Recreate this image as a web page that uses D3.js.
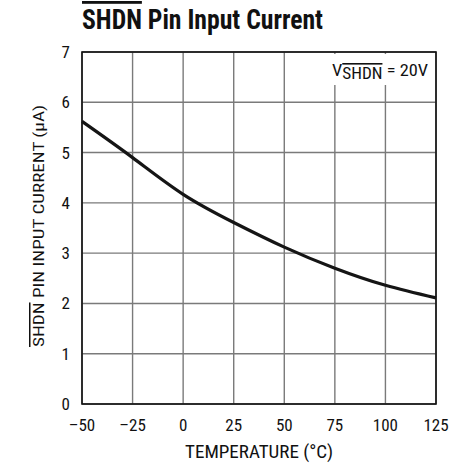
<!DOCTYPE html>
<html><head><meta charset="utf-8">
<script src="https://cdn.jsdelivr.net/npm/d3@7"></script>
<style>
body{margin:0;background:#fff;}
text{font-family:"Liberation Sans Narrow","Arial Narrow","Roboto Condensed","Liberation Sans",sans-serif;}
</style></head>
<body><svg id="c" width="451" height="468"></svg>
<script>
const temps = [-50, -25, 0, 25, 50, 75, 100, 125];
const current = [5.62, 4.90, 4.17, 3.61, 3.12, 2.70, 2.36, 2.11];
const xTicks = [-50, -25, 0, 25, 50, 75, 100, 125];
const yTicks = [0, 1, 2, 3, 4, 5, 6, 7];

const W = 451, H = 468;
const m = {left: 82, right: 15, top: 52, bottom: 64};
const svg = d3.select("#c");
const x = d3.scaleLinear().domain([-50, 125]).range([m.left, W - m.right]);
const y = d3.scaleLinear().domain([0, 7]).range([H - m.bottom, m.top]);

// grid
const g = svg.append("g");
g.selectAll("line.v").data(xTicks).join("line")
  .attr("x1", d => x(d)).attr("x2", d => x(d))
  .attr("y1", y(0)).attr("y2", y(7))
  .attr("stroke", "#7a7a7a").attr("stroke-width", 1.4);
g.selectAll("line.h").data(yTicks).join("line")
  .attr("y1", d => y(d)).attr("y2", d => y(d))
  .attr("x1", x(-50)).attr("x2", x(125))
  .attr("stroke", "#7a7a7a").attr("stroke-width", 1.4);

// legend box (white background)
const lg = svg.append("g");
lg.append("rect").attr("x", 331).attr("y", 54).attr("width", 102).attr("height", 31).attr("fill", "#fff");
const lt = lg.append("text").attr("x", 332).attr("y", 76).attr("font-size", 17).attr("fill", "#111")
  .attr("textLength", 96).attr("lengthAdjust", "spacingAndGlyphs");
lt.append("tspan").text("V");
lt.append("tspan").attr("dy", 3).attr("font-size", 16).attr("text-decoration", "overline").text("SHDN");
lt.append("tspan").attr("dy", -3).text(" = 20V");

// frame
svg.append("rect").attr("x", x(-50)).attr("y", y(7))
  .attr("width", x(125) - x(-50)).attr("height", y(0) - y(7))
  .attr("fill", "none").attr("stroke", "#111").attr("stroke-width", 1.6);

// curve
const line = d3.line().x((d, i) => x(temps[i])).y(d => y(d)).curve(d3.curveNatural);
svg.append("path").datum(current).attr("d", line)
  .attr("fill", "none").attr("stroke", "#151515").attr("stroke-width", 3.2);

// axes labels
svg.selectAll("text.yt").data(yTicks).join("text")
  .attr("x", 70).attr("y", d => y(d) + 6).attr("text-anchor", "end")
  .attr("font-size", 17).attr("fill", "#111").text(d => d);
svg.selectAll("text.xt").data(xTicks).join("text")
  .attr("x", d => x(d)).attr("y", 431).attr("text-anchor", "middle")
  .attr("font-size", 17).attr("fill", "#111").text(d => d < 0 ? "\u2013" + Math.abs(d) : d);

svg.append("text").attr("x", 259).attr("y", 458).attr("text-anchor", "middle")
  .attr("font-size", 18).attr("fill", "#111")
  .attr("textLength", 148).attr("lengthAdjust", "spacingAndGlyphs")
  .text("TEMPERATURE (\u00B0C)");

const yl = svg.append("text").attr("transform", `translate(44,226) rotate(-90)`)
  .attr("text-anchor", "middle").attr("font-size", 15).attr("fill", "#111")
  .attr("textLength", 242).attr("lengthAdjust", "spacingAndGlyphs");
yl.append("tspan").attr("text-decoration", "overline").text("SHDN");
yl.append("tspan").text(" PIN INPUT CURRENT (\u00B5A)");

// title
const t = svg.append("text").attr("x", 82).attr("y", 29).attr("font-size", 28)
  .attr("font-weight", "bold").attr("fill", "#111")
  .attr("textLength", 241).attr("lengthAdjust", "spacingAndGlyphs");
t.append("tspan").attr("text-decoration", "overline").text("SHDN");
t.append("tspan").text(" Pin Input Current");
</script></body></html>
